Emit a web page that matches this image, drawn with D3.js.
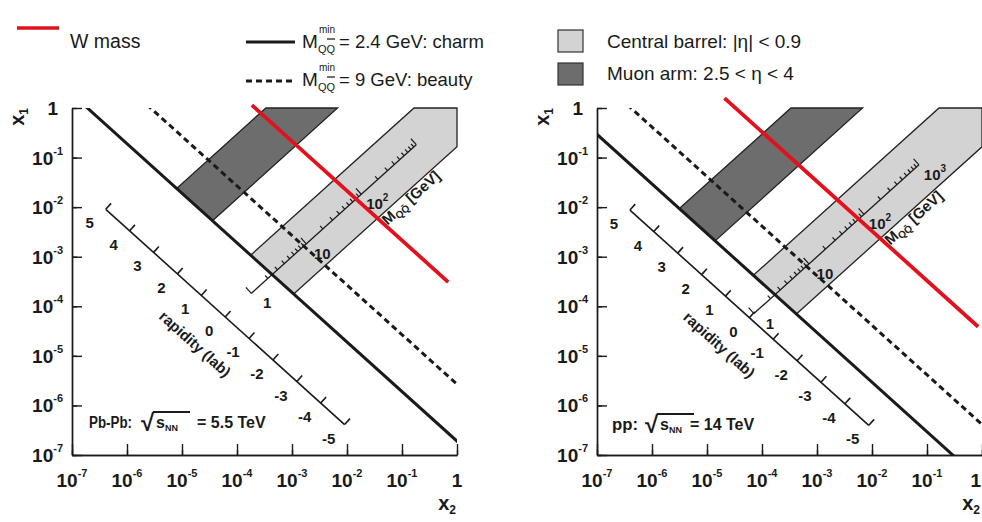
<!DOCTYPE html>
<html><head><meta charset="utf-8">
<script src="https://cdn.jsdelivr.net/npm/d3@7"></script>
<style>
body{margin:0;background:#fff}
svg{display:block}
text{font-family:"Liberation Sans",Arial,Helvetica,sans-serif;fill:#1a1a1a}
</style>
</head><body>
<svg id="c" width="982" height="522"></svg>
<script>
// ---------------- data ----------------
const panelNames = ["Pb-Pb:", "pp:"];
const sqrtS = [5500, 14000];                 // GeV
const energyLabels = ["= 5.5 TeV", "= 14 TeV"];
const charmMass = 2.4;                       // GeV
const beautyMass = 9;                        // GeV
const wMass = 80.4;                          // GeV
const wRapidity = [[4.36, -3.86], [5.62, -5.0]];
const barrelEta = [-0.9, 0.9];
const muonEta = [2.5, 4];
const rapidityTicks = [5, 4, 3, 2, 1, 0, -1, -2, -3, -4, -5];
const rapidityAxisLogTau = [-8.43, -8.46];
const massAxisRange = [1, 1000];            // GeV
const massTickLabels = [[1, 10, 100], [1, 10, 100, 1000]];
const xTickExps = [-7, -6, -5, -4, -3, -2, -1, 0];
const yTickExps = [-7, -6, -5, -4, -3, -2, -1, 0];
const legendLabels = ["W mass", "= 2.4 GeV: charm", "= 9 GeV: beauty",
                      "Central barrel: |\u03b7| < 0.9", "Muon arm: 2.5 < \u03b7 < 4"];

// ---------------- layout ----------------
const W = 982;
const layout = [
  {x0: 72,  x1: 457, annX: 89,  sqrtX: 141, eqX: 197, annLen: 43},
  {x0: 597, x1: 982, annX: 612, sqrtX: 645, eqX: 690, annLen: 26}
];
const Y0 = 108, Y1 = 455;
const C = {red: "#e1121d", light: "#d3d3d3", dark: "#6d6d6d", ink: "#1a1a1a"};

const svg = d3.select("#c");
svg.append("rect").attr("width", W).attr("height", 522).attr("fill", "#fff");

function clipPoly(pts, b) {
  const edges = [
    [p => p[0] >= b.x0, (p, q) => { const t = (b.x0 - p[0]) / (q[0] - p[0]); return [b.x0, p[1] + t * (q[1] - p[1])]; }],
    [p => p[0] <= b.x1, (p, q) => { const t = (b.x1 - p[0]) / (q[0] - p[0]); return [b.x1, p[1] + t * (q[1] - p[1])]; }],
    [p => p[1] >= b.y0, (p, q) => { const t = (b.y0 - p[1]) / (q[1] - p[1]); return [p[0] + t * (q[0] - p[0]), b.y0]; }],
    [p => p[1] <= b.y1, (p, q) => { const t = (b.y1 - p[1]) / (q[1] - p[1]); return [p[0] + t * (q[0] - p[0]), b.y1]; }]
  ];
  let out = pts;
  for (const [inside, inter] of edges) {
    const inp = out; out = [];
    for (let i = 0; i < inp.length; i++) {
      const cur = inp[i], prev = inp[(i + inp.length - 1) % inp.length];
      if (inside(cur)) { if (!inside(prev)) out.push(inter(prev, cur)); out.push(cur); }
      else if (inside(prev)) out.push(inter(prev, cur));
    }
  }
  return out;
}
const norm = v => { const l = Math.hypot(v[0], v[1]); return [v[0] / l, v[1] / l]; };

function powLabel(sel, base, exp, supSize, supDy) {
  sel.append("tspan").text(base);
  if (exp !== null) sel.append("tspan").attr("font-size", supSize).attr("dy", supDy).text(exp);
}

layout.forEach((L, i) => {
  const s = sqrtS[i];
  const x = d3.scaleLog().domain([1e-7, 1]).range([L.x0, L.x1]);
  const y = d3.scaleLog().domain([1e-7, 1]).range([Y1, Y0]);
  const box = {x0: L.x0, x1: L.x1, y0: Y0, y1: Y1};
  const ptA = (a, rap) => [x(Math.pow(10, a) * Math.exp(-rap)), y(Math.pow(10, a) * Math.exp(rap))];
  const pt = (M, rap) => ptA(Math.log10(M / s), rap);
  const g = svg.append("g");
  const clipId = "clip" + i;
  svg.append("clipPath").attr("id", clipId).append("rect")
    .attr("x", L.x0).attr("y", Y0).attr("width", L.x1 - L.x0).attr("height", Y1 - Y0);

  // acceptance bands
  const band = (eta, fill) => {
    const poly = clipPoly([pt(charmMass, eta[0]), pt(1e6, eta[0]), pt(1e6, eta[1]), pt(charmMass, eta[1])], box);
    g.append("path").attr("d", "M" + poly.map(p => p.join(",")).join("L") + "Z")
      .attr("fill", fill).attr("stroke", "#222").attr("stroke-width", 1.3);
  };
  band(barrelEta, C.light);
  band(muonEta, C.dark);

  // threshold lines
  const line = d3.line();
  g.append("path").attr("clip-path", `url(#${clipId})`)
    .attr("d", line([pt(beautyMass, -30), pt(beautyMass, 30)]))
    .attr("stroke", C.ink).attr("stroke-width", 3).attr("stroke-dasharray", "6,4").attr("fill", "none");
  g.append("path").attr("clip-path", `url(#${clipId})`)
    .attr("d", line([pt(charmMass, -30), pt(charmMass, 30)]))
    .attr("stroke", C.ink).attr("stroke-width", 3).attr("fill", "none");

  // main axes
  const xa = g.append("g").attr("transform", `translate(0,${Y1})`);
  xa.call(d3.axisBottom(x).ticks(7).tickSizeInner(-5).tickSizeOuter(0).tickFormat(""));
  xa.append("g").call(d3.axisBottom(x).tickValues(xTickExps.map(e => Math.pow(10, e))).tickSizeInner(-11).tickSizeOuter(0).tickFormat(""));
  const ya = g.append("g").attr("transform", `translate(${L.x0},0)`);
  ya.call(d3.axisLeft(y).ticks(7).tickSizeInner(-5).tickSizeOuter(0).tickFormat(""));
  ya.append("g").call(d3.axisLeft(y).tickValues(yTickExps.map(e => Math.pow(10, e))).tickSizeInner(-10).tickSizeOuter(0).tickFormat(""));
  g.selectAll(".domain, .tick line").attr("stroke", C.ink).attr("stroke-width", 1.4);

  xTickExps.forEach(e => {
    const xp = x(Math.pow(10, e));
    const atEdge = xp + 6 > W;
    const t = g.append("text").attr("x", atEdge ? W - 1 : xp).attr("y", 487)
      .attr("text-anchor", atEdge ? "end" : "middle").attr("font-size", 19).attr("font-weight", "bold");
    if (e === 0) t.text("1"); else powLabel(t, "10", String(e), 11, -10);
  });
  yTickExps.forEach(e => {
    const t = g.append("text").attr("x", e === 0 ? L.x0 - 14 : L.x0 - 9).attr("y", y(Math.pow(10, e)) + 7)
      .attr("text-anchor", "end").attr("font-size", 19).attr("font-weight", "bold");
    if (e === 0) t.text("1"); else powLabel(t, "10", String(e), 11, -10);
  });
  // axis titles
  const xt = g.append("text").attr("x", Math.min(L.x1 - 1, W - 2)).attr("y", 510).attr("text-anchor", "end")
    .attr("font-size", 20).attr("font-weight", "bold");
  xt.append("tspan").text("x"); xt.append("tspan").attr("font-size", 12).attr("dy", 4).text("2");
  const yt = g.append("text").attr("transform", `translate(${L.x0 - 48},${Y0}) rotate(-90)`)
    .attr("text-anchor", "end").attr("font-size", 20).attr("font-weight", "bold");
  yt.append("tspan").text("x"); yt.append("tspan").attr("font-size", 12).attr("dy", 4).text("1");

  // rapidity axis
  const a = rapidityAxisLogTau[i] / 2;
  const rp0 = ptA(a, rapidityTicks[0]), rp1 = ptA(a, rapidityTicks[rapidityTicks.length - 1]);
  const u = norm([rp1[0] - rp0[0], rp1[1] - rp0[1]]);
  const nUR = [u[1], -u[0]];
  g.append("path").attr("d", line([rp0, rp1])).attr("stroke", C.ink).attr("stroke-width", 1.6).attr("fill", "none");
  rapidityTicks.forEach(r => {
    const p = ptA(a, r);
    g.append("path").attr("d", line([p, [p[0] + nUR[0] * 8, p[1] + nUR[1] * 8]]))
      .attr("stroke", C.ink).attr("stroke-width", 1.6);
    g.append("text").attr("x", p[0] - 16).attr("y", p[1] + 14 + 5).attr("text-anchor", "middle")
      .attr("font-size", 15).attr("font-weight", "bold").text(String(r));
  });
  const ang = Math.atan2(u[1], u[0]) * 180 / Math.PI;
  const r0 = ptA(a, 0);
  g.append("text").attr("transform", `translate(${r0[0] - 31},${r0[1] + 28}) rotate(${ang})`)
    .attr("text-anchor", "middle").attr("dominant-baseline", "middle")
    .attr("font-size", 15).attr("font-weight", "bold").text("rapidity (lab)");

  // invariant mass axis (along y = 0)
  const mScale = d3.scaleLog().domain(massAxisRange);
  const m0 = pt(massAxisRange[0], 0), m1 = pt(massAxisRange[1], 0);
  const um = norm([m1[0] - m0[0], m1[1] - m0[1]]);
  const nUL = [um[1], -um[0]];
  g.append("path").attr("d", line([m0, m1])).attr("stroke", C.ink).attr("stroke-width", 1.3).attr("fill", "none");
  mScale.ticks().forEach(M => {
    const p = pt(M, 0);
    const major = Math.abs(Math.log10(M) - Math.round(Math.log10(M))) < 1e-9;
    const len = major ? 8 : 4;
    g.append("path").attr("d", line([p, [p[0] + nUL[0] * len, p[1] + nUL[1] * len]]))
      .attr("stroke", C.ink).attr("stroke-width", 1.2);
  });
  massTickLabels[i].forEach(M => {
    const p = pt(M, 0);
    const e = Math.round(Math.log10(M));
    const t = g.append("text").attr("x", p[0] + 16).attr("y", p[1] + 15).attr("text-anchor", "middle")
      .attr("font-size", 15).attr("font-weight", "bold");
    if (e === 0) t.text("1"); else if (e === 1) t.text("10"); else powLabel(t, "10", String(e), 10, -8);
  });
  const mt = pt(Math.pow(10, 2.5), 0);
  const angM = Math.atan2(um[1], um[0]) * 180 / Math.PI;
  const mtT = g.append("text").attr("transform", `translate(${mt[0] + 23},${mt[1] + 29}) rotate(${angM})`)
    .attr("text-anchor", "middle").attr("dominant-baseline", "middle")
    .attr("font-size", 15).attr("font-weight", "bold");
  mtT.append("tspan").text("M");
  mtT.append("tspan").attr("font-size", 10).attr("dy", 4).text("Q\u0051\u0304");
  mtT.append("tspan").attr("dy", -4).text(" [GeV]");

  // W mass line
  g.append("path").attr("d", line([pt(wMass, wRapidity[i][0]), pt(wMass, wRapidity[i][1])]))
    .attr("stroke", C.red).attr("stroke-width", 3.8).attr("fill", "none");

  // collision annotation
  const base = i === 0 ? 428 : 430;
  g.append("text").attr("x", L.annX).attr("y", base).attr("font-size", 16).attr("font-weight", "bold")
    .attr("textLength", L.annLen).attr("lengthAdjust", "spacingAndGlyphs").text(panelNames[i]);
  g.append("text").attr("x", L.sqrtX).attr("y", base + 3).attr("font-size", 24).attr("font-weight", "bold")
    .attr("font-family", "DejaVu Sans").text("\u221a");
  const st = g.append("text").attr("x", L.sqrtX + 15).attr("y", base).attr("font-size", 16).attr("font-weight", "bold");
  st.append("tspan").text("s");
  st.append("tspan").attr("font-size", 9).attr("dy", 3).text("NN");
  g.append("path").attr("d", line([[L.sqrtX + 12, base - 16], [L.sqrtX + 49, base - 16]]))
    .attr("stroke", C.ink).attr("stroke-width", 2);
  g.append("text").attr("x", L.eqX).attr("y", base).attr("font-size", 16).attr("font-weight", "bold")
    .text(energyLabels[i]);
});

// ---------------- legend ----------------
const lg = svg.append("g");
lg.append("line").attr("x1", 17).attr("x2", 59).attr("y1", 28).attr("y2", 28)
  .attr("stroke", C.red).attr("stroke-width", 3.5);
lg.append("text").attr("x", 70).attr("y", 48).attr("font-size", 19.5).attr("fill", "#222").text(legendLabels[0]);

function massLegend(yLine, yBase, dash, label) {
  lg.append("line").attr("x1", 246).attr("x2", 295).attr("y1", yLine).attr("y2", yLine)
    .attr("stroke", C.ink).attr("stroke-width", 3).attr("stroke-dasharray", dash);
  lg.append("text").attr("x", 302).attr("y", yBase).attr("font-size", 19).attr("fill", "#222").text("M");
  lg.append("text").attr("x", 319).attr("y", yBase - 15).attr("font-size", 10).attr("fill", "#222").text("min");
  lg.append("text").attr("x", 318).attr("y", yBase + 5).attr("font-size", 11).attr("fill", "#222").text("QQ");
  lg.append("line").attr("x1", 327).attr("x2", 335).attr("y1", yBase - 9).attr("y2", yBase - 9)
    .attr("stroke", "#222").attr("stroke-width", 1.3);
  lg.append("text").attr("x", 339).attr("y", yBase).attr("font-size", 18.5).attr("fill", "#222").text(label);
}
massLegend(42, 48, null, legendLabels[1]);
massLegend(81, 86, "6,4", legendLabels[2]);

lg.append("rect").attr("x", 558).attr("y", 30).attr("width", 25).attr("height", 22)
  .attr("fill", C.light).attr("stroke", "#333").attr("stroke-width", 1.2);
lg.append("text").attr("x", 607).attr("y", 48).attr("font-size", 19).attr("fill", "#222").text(legendLabels[3]);
lg.append("rect").attr("x", 558).attr("y", 63).attr("width", 25).attr("height", 22)
  .attr("fill", C.dark).attr("stroke", "#333").attr("stroke-width", 1.2);
lg.append("text").attr("x", 607).attr("y", 80).attr("font-size", 19).attr("fill", "#222").text(legendLabels[4]);
</script>
</body></html>
